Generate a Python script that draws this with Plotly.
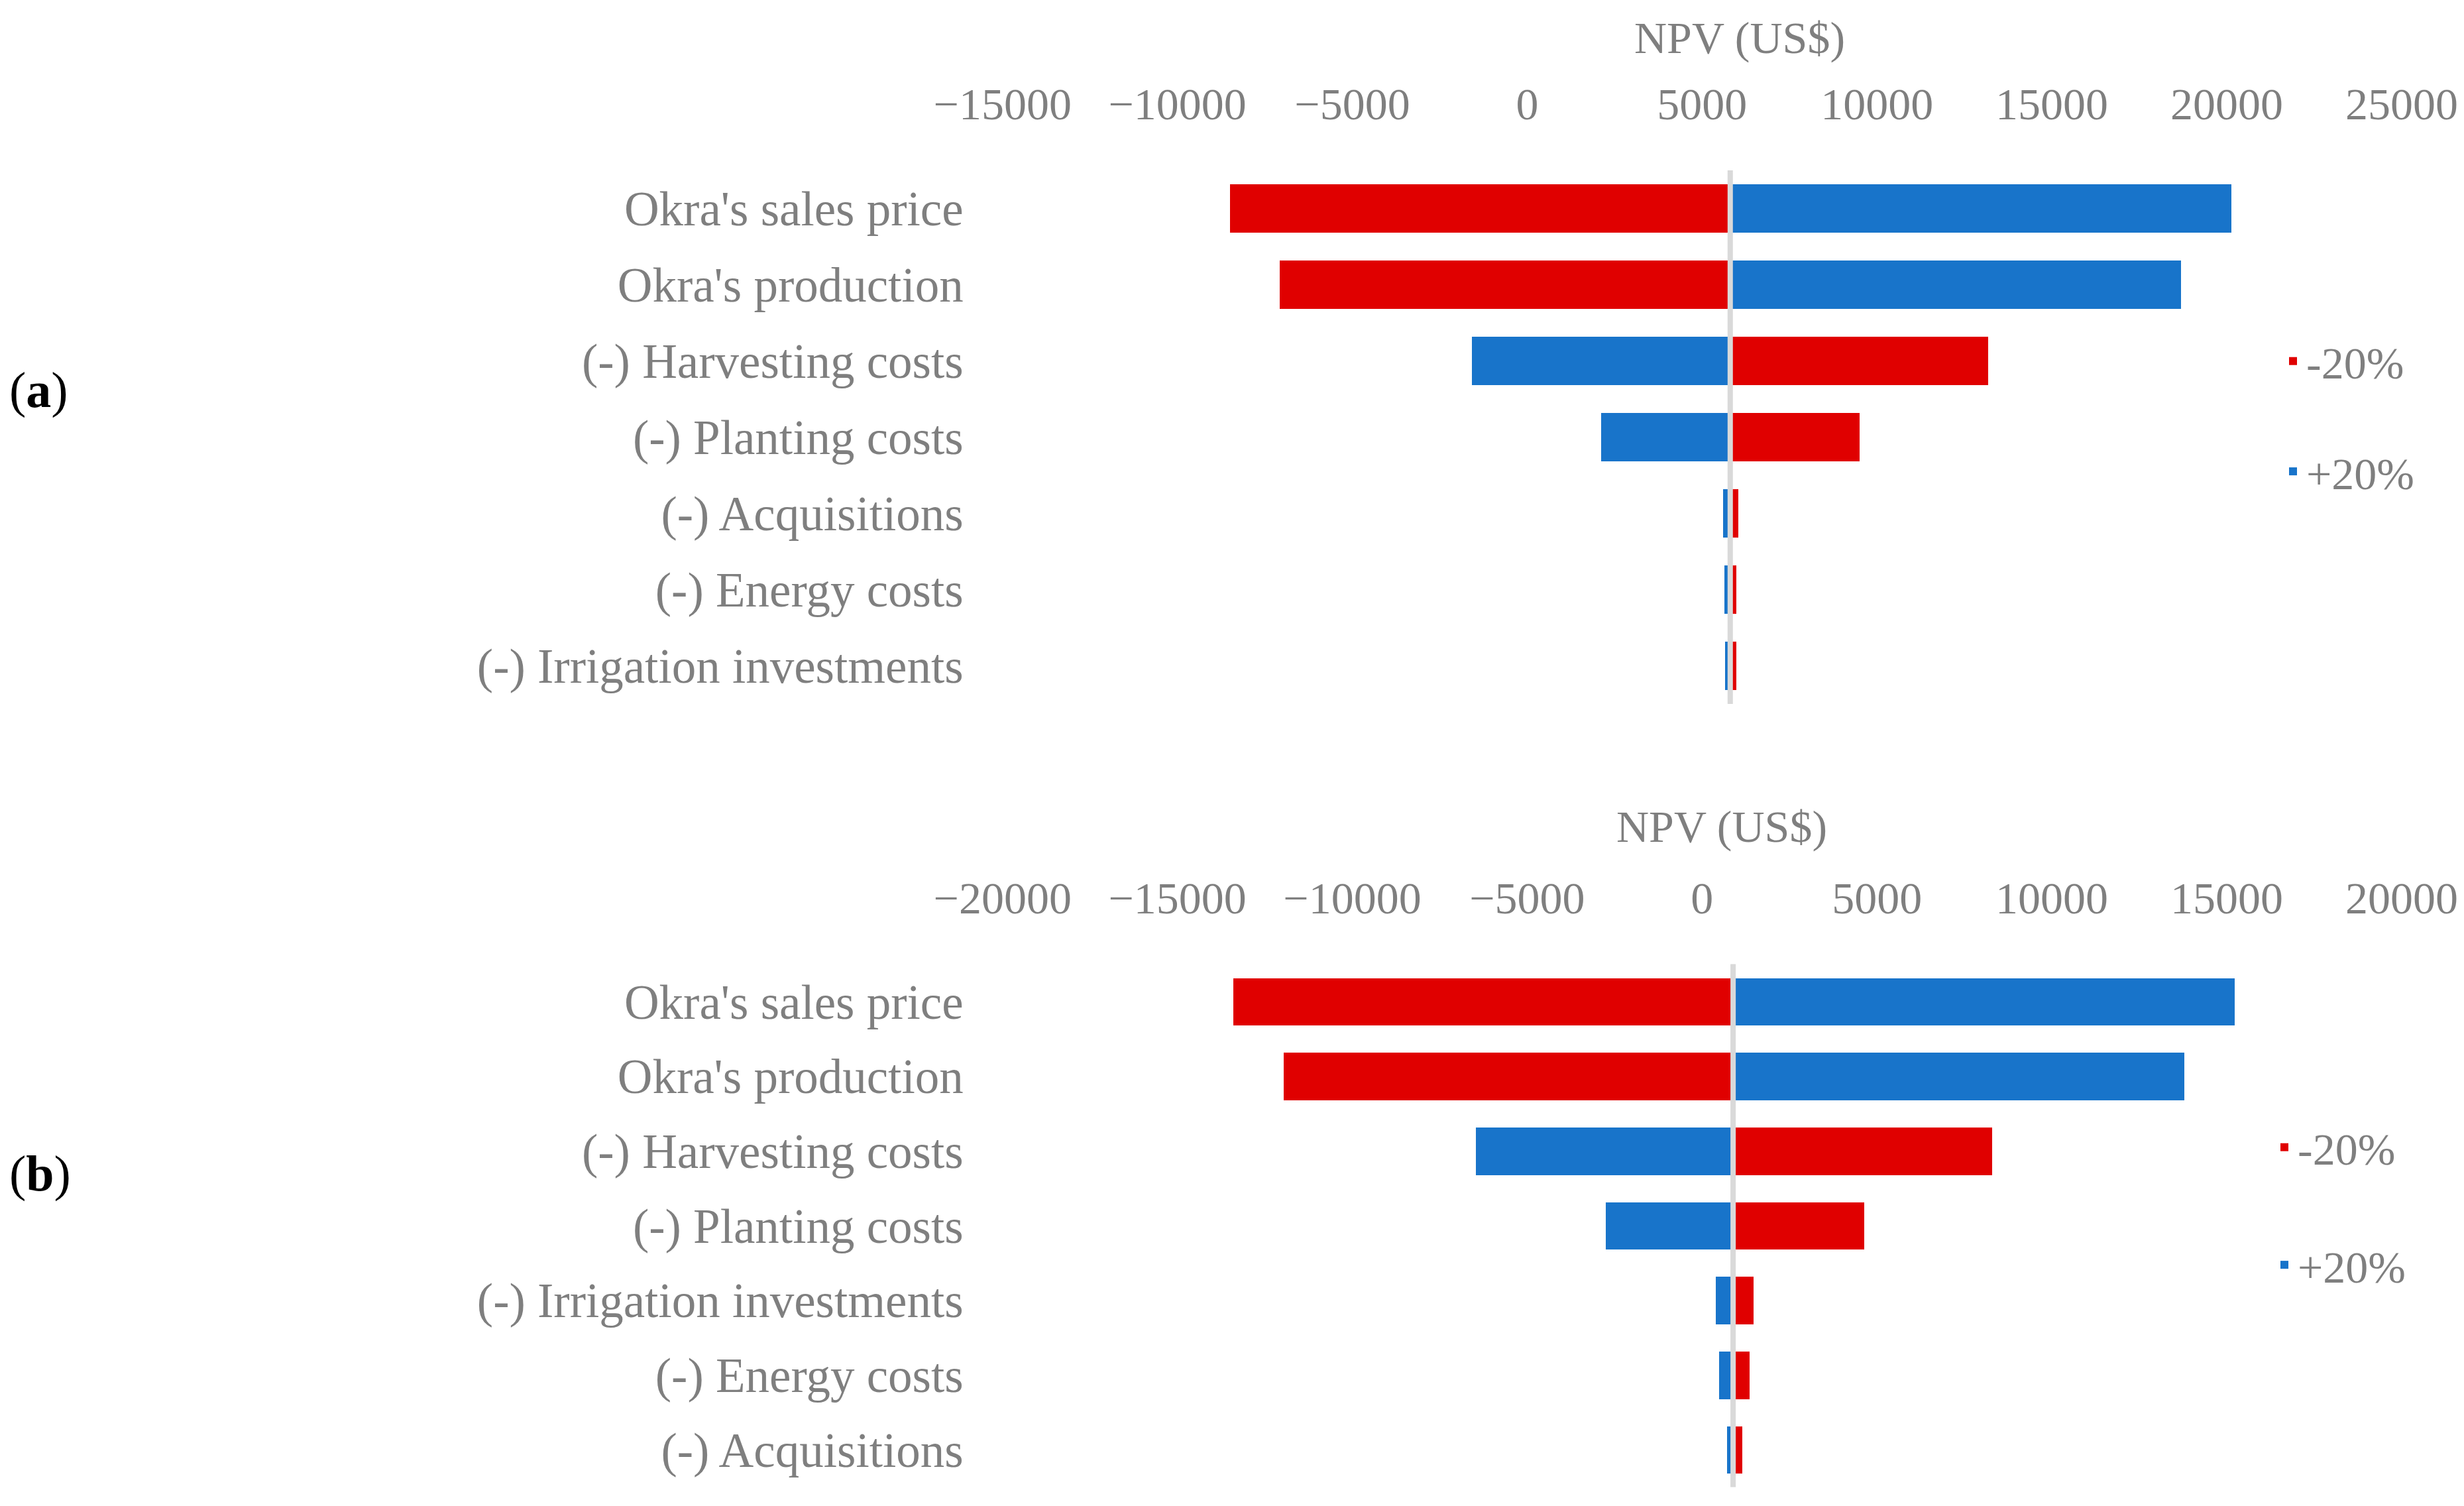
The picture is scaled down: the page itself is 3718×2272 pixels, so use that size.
import plotly.graph_objects as go

# ---------------- data ----------------
cats_a = ["Okra's sales price", "Okra's production", "(-) Harvesting costs",
          "(-) Planting costs", "(-) Acquisitions", "(-) Energy costs",
          "(-) Irrigation investments"]
base_a = 5805
minus20_a = [-8492, -7075, 13180, 9502, 6031, 5971, 5971]
plus20_a = [20121, 18683, -1590, 2109, 5601, 5641, 5661]
ticks_a = [-15000, -10000, -5000, 0, 5000, 10000, 15000, 20000, 25000]

cats_b = ["Okra's sales price", "Okra's production", "(-) Harvesting costs",
          "(-) Planting costs", "(-) Irrigation investments", "(-) Energy costs",
          "(-) Acquisitions"]
base_b = 887
minus20_b = [-13409, -11971, 8282, 4625, 1463, 1360, 1135]
plus20_b = [15226, 13786, -6467, -2768, 394, 477, 703]
ticks_b = [-20000, -15000, -10000, -5000, 0, 5000, 10000, 15000, 20000]

series_names = ["-20%", "+20%"]
panel_labels = ["(<b>a</b>)", "(<b>b</b>)"]
axis_title = "NPV (US$)"

# ---------------- style ----------------
RED = "#E00000"
BLUE = "#1874CA"
GREY = "#7F7F7F"
LINE = "#D9D9D9"
FONT = "Liberation Serif"
FS = 68
FS_CAT = 73
OFF = 8                       # page body margin of the html page
W, H = 3718 - OFF, 2272 - OFF


def px_x(v):
    return (v - OFF) / W


def px_y(v):
    return 1 - (v - OFF) / H


def tick_text(vals):
    return [str(v).replace("-", "\u2212") for v in vals]


fig = go.Figure()

panels = [
    (cats_a, base_a, minus20_a, plus20_a, "x", "y", "legend"),
    (cats_b, base_b, minus20_b, plus20_b, "x2", "y2", "legend2"),
]
for cats, base, lo, hi, xa, ya, lg in panels:
    fig.add_trace(go.Bar(
        y=cats, x=[v - base for v in lo], base=base, orientation="h",
        marker=dict(color=RED, line=dict(width=0)), width=0.635,
        name=series_names[0], xaxis=xa, yaxis=ya, legend=lg, legendgroup="m"))
    fig.add_trace(go.Bar(
        y=cats, x=[v - base for v in hi], base=base, orientation="h",
        marker=dict(color=BLUE, line=dict(width=0)), width=0.635,
        name=series_names[1], xaxis=xa, yaxis=ya, legend=lg, legendgroup="p"))

xdom = [px_x(1512.7), px_x(3623.9)]
ydom_a = [px_y(1062), px_y(257)]
ydom_b = [px_y(2243.5), px_y(1454.6)]


def xaxis(ticks, anchor):
    return dict(
        domain=xdom, anchor=anchor, side="top",
        range=[ticks[0], ticks[-1]], tickmode="array",
        tickvals=ticks, ticktext=tick_text(ticks),
        showgrid=False, zeroline=False, showline=False, ticks="",
        ticklabelstandoff=62,
        tickfont=dict(family=FONT, size=FS, color=GREY),
        automargin=False, fixedrange=True)


def yaxis(cats, dom, anchor):
    return dict(
        domain=dom, anchor=anchor, type="category",
        categoryorder="array", categoryarray=cats, autorange="reversed",
        showgrid=False, zeroline=False, showline=False, ticks="",
        ticklabelstandoff=58,
        tickfont=dict(family=FONT, size=FS_CAT, color=GREY),
        automargin=False, fixedrange=True)


fig.update_layout(
    width=W, height=H,
    margin=dict(l=0, r=0, t=0, b=0),
    paper_bgcolor="white", plot_bgcolor="white",
    barmode="overlay", bargap=0,
    font=dict(family=FONT, size=FS, color=GREY),
    xaxis=xaxis(ticks_a, "y"),
    yaxis=yaxis(cats_a, ydom_a, "x"),
    xaxis2=xaxis(ticks_b, "y2"),
    yaxis2=yaxis(cats_b, ydom_b, "x2"),
    legend=dict(x=px_x(3440), y=px_y(494), xanchor="left", yanchor="top",
                font=dict(family=FONT, size=FS, color=GREY),
                tracegroupgap=75, traceorder="grouped", bgcolor="rgba(0,0,0,0)"),
    legend2=dict(x=px_x(3427), y=px_y(1680), xanchor="left", yanchor="top",
                 font=dict(family=FONT, size=FS, color=GREY),
                 tracegroupgap=86, traceorder="grouped", bgcolor="rgba(0,0,0,0)"),
    showlegend=True,
)

# vertical reference line at the base NPV of each panel
for base, xa, ya in [(base_a, "x", "y"), (base_b, "x2", "y2")]:
    fig.add_shape(type="line", xref=xa, yref=f"{ya} domain",
                  x0=base, x1=base, y0=0, y1=1,
                  line=dict(color=LINE, width=8), layer="above")

# axis titles (placed above the top axes, as in the original)
for xc, yc in [(2625, 57), (2598, 1247)]:
    fig.add_annotation(text=axis_title, xref="paper", yref="paper",
                       x=px_x(xc), y=px_y(yc), xanchor="center", yanchor="middle",
                       showarrow=False,
                       font=dict(family=FONT, size=FS, color=GREY))

# panel labels
for lab, yc in zip(panel_labels, [588, 1770]):
    fig.add_annotation(text=lab, xref="paper", yref="paper",
                       x=px_x(12), y=px_y(yc), xanchor="left", yanchor="middle",
                       showarrow=False,
                       font=dict(family=FONT, size=76, color="black"))

fig.write_html("out.html")
